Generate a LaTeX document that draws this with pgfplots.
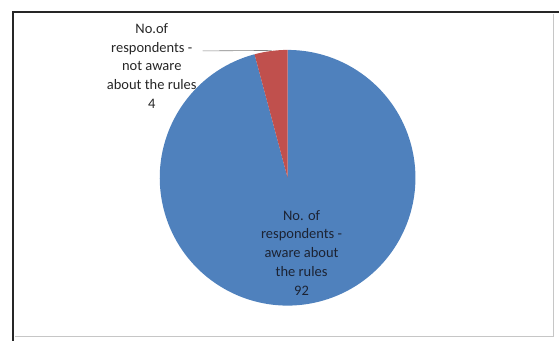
\documentclass[border=0pt]{standalone}
\usepackage{pgfplots}
\pgfplotsset{compat=1.18}
\usepackage{pgfplotstable}
\usepackage{fontspec}
\setmainfont{Carlito}
\definecolor{pieblue}{HTML}{4F81BD}
\definecolor{piered}{HTML}{C0504D}
\definecolor{txt}{HTML}{262626}
\definecolor{txtb}{HTML}{1C2333}
\definecolor{frame}{HTML}{262626}
\pgfplotstableread{
label value
aware 92
notaware 4
}\piedata
\pgfplotstablegetelem{0}{value}\of\piedata
\let\va\pgfplotsretval
\pgfplotstablegetelem{1}{value}\of\piedata
\let\vb\pgfplotsretval
\pgfmathsetmacro\angb{90+360*\vb/(\va+\vb)}
\begin{document}
\begin{tikzpicture}
\begin{axis}[scale only axis, width=560pt, height=341pt,
  xmin=0, xmax=560, ymin=0, ymax=341, hide axis, clip=false]
% invisible bounding box
\path (axis cs:0,0) rectangle (axis cs:560,341);
% frame
\draw[frame, line width=1.6pt] (axis cs:13,0) -- (axis cs:13,329) -- (axis cs:560,329);
\draw[gray!45, line width=1.2pt] (axis cs:554,327) -- (axis cs:554,4) -- (axis cs:15,4);
% pie
\fill[pieblue] (axis cs:288,163) -- ++(\angb:128pt) arc[start angle=\angb, end angle=450, radius=128pt] -- cycle;
\fill[piered] (axis cs:288,163) -- ++(90:128pt) arc[start angle=90, end angle=\angb, radius=128pt] -- cycle;
% leader line
\draw[gray, line width=0.6pt] (axis cs:203,290) -- (axis cs:272,290.5);
% labels
\node[txt, align=center, font=\fontsize{14.5}{18.8}\selectfont] at (axis cs:152,275)
  {No.of\\respondents -\\not aware\\about the rules\\\vb};
\node[txtb, align=center, font=\fontsize{14.5}{18.8}\selectfont] at (axis cs:302,88)
  {No. of\\respondents -\\aware about\\the rules\\\va};
\end{axis}
\end{tikzpicture}
\end{document}
